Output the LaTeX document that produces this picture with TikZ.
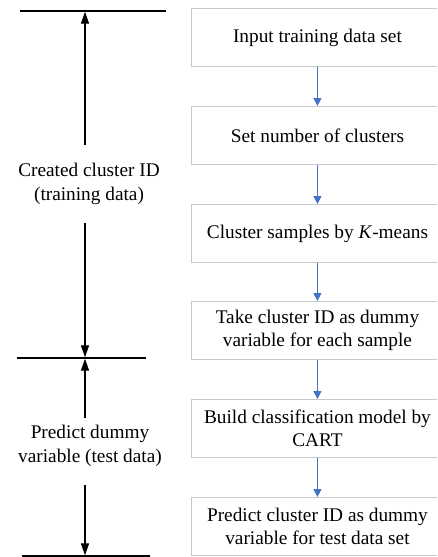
\documentclass[tikz,border=0pt]{standalone}
\usepackage{fontspec}
\setmainfont{Liberation Serif}
\usetikzlibrary{arrows.meta}
\definecolor{boxgray}{RGB}{200,200,200}
\definecolor{flowblue}{RGB}{68,114,196}
\tikzset{
  stepbox/.style={draw=boxgray, line width=0.9pt, minimum width=252pt, minimum height=58pt, anchor=north west, inner sep=0pt, align=center, font=\fontsize{19.3}{23.5}\selectfont},
  flowarrow/.style={draw=flowblue, line width=1.1pt, -{Triangle[length=8pt,width=8pt]}},
  dimline/.style={draw=black, line width=1.4pt},
  dimarrow/.style={draw=black, line width=1.3pt, -{Triangle[length=12pt,width=8pt]}},
  sidelabel/.style={align=center, font=\fontsize{19.3}{23.5}\selectfont, inner sep=0pt}
}
\begin{document}
\begin{tikzpicture}[x=1pt,y=-1pt]
\useasboundingbox (0,0) rectangle (437,557);
\begin{scope}
\clip (0,0) rectangle (437,557);
\node[stepbox] (b1) at (191,8) {Input training data set};
\node[stepbox] (b2) at (191,106) {Set number of clusters};
\node[stepbox] (b3) at (191,204) {Cluster samples by \textit{K}-means};
\node[stepbox] (b4) at (191,301) {Take cluster ID as dummy\\variable for each sample};
\node[stepbox] (b5) at (191,399) {Build classification model by\\CART};
\node[stepbox] (b6) at (191,497) {Predict cluster ID as dummy\\variable for test data set};
\end{scope}
\foreach \a/\b in {b1/b2,b2/b3,b3/b4,b4/b5,b5/b6}
  \draw[flowarrow] (\a.south) -- (\b.north);

\coordinate (t1) at (20,11);
\coordinate (t2) at (166,11);
\coordinate (m1) at (17,358);
\coordinate (m2) at (146,358);
\coordinate (e1) at (22,556);
\coordinate (e2) at (150,556);
\draw[dimline] (t1) -- (t2);
\draw[dimline] (m1) -- (m2);
\draw[dimline] (e1) -- (e2);

\node[sidelabel] (l1) at (89,184) {Created cluster ID\\(training data)};
\node[sidelabel] (l2) at (90,446) {Predict dummy\\variable (test data)};

\coordinate (a1s) at (85,145);
\coordinate (a1e) at (85,11.7);
\coordinate (a2s) at (85,223);
\coordinate (a2e) at (85,357.3);
\coordinate (a3s) at (85,418);
\coordinate (a3e) at (85,358.7);
\coordinate (a4s) at (85,485);
\coordinate (a4e) at (85,555.3);
\draw[dimarrow] (a1s) -- (a1e);
\draw[dimarrow] (a2s) -- (a2e);
\draw[dimarrow] (a3s) -- (a3e);
\draw[dimarrow] (a4s) -- (a4e);
\end{tikzpicture}
\end{document}
